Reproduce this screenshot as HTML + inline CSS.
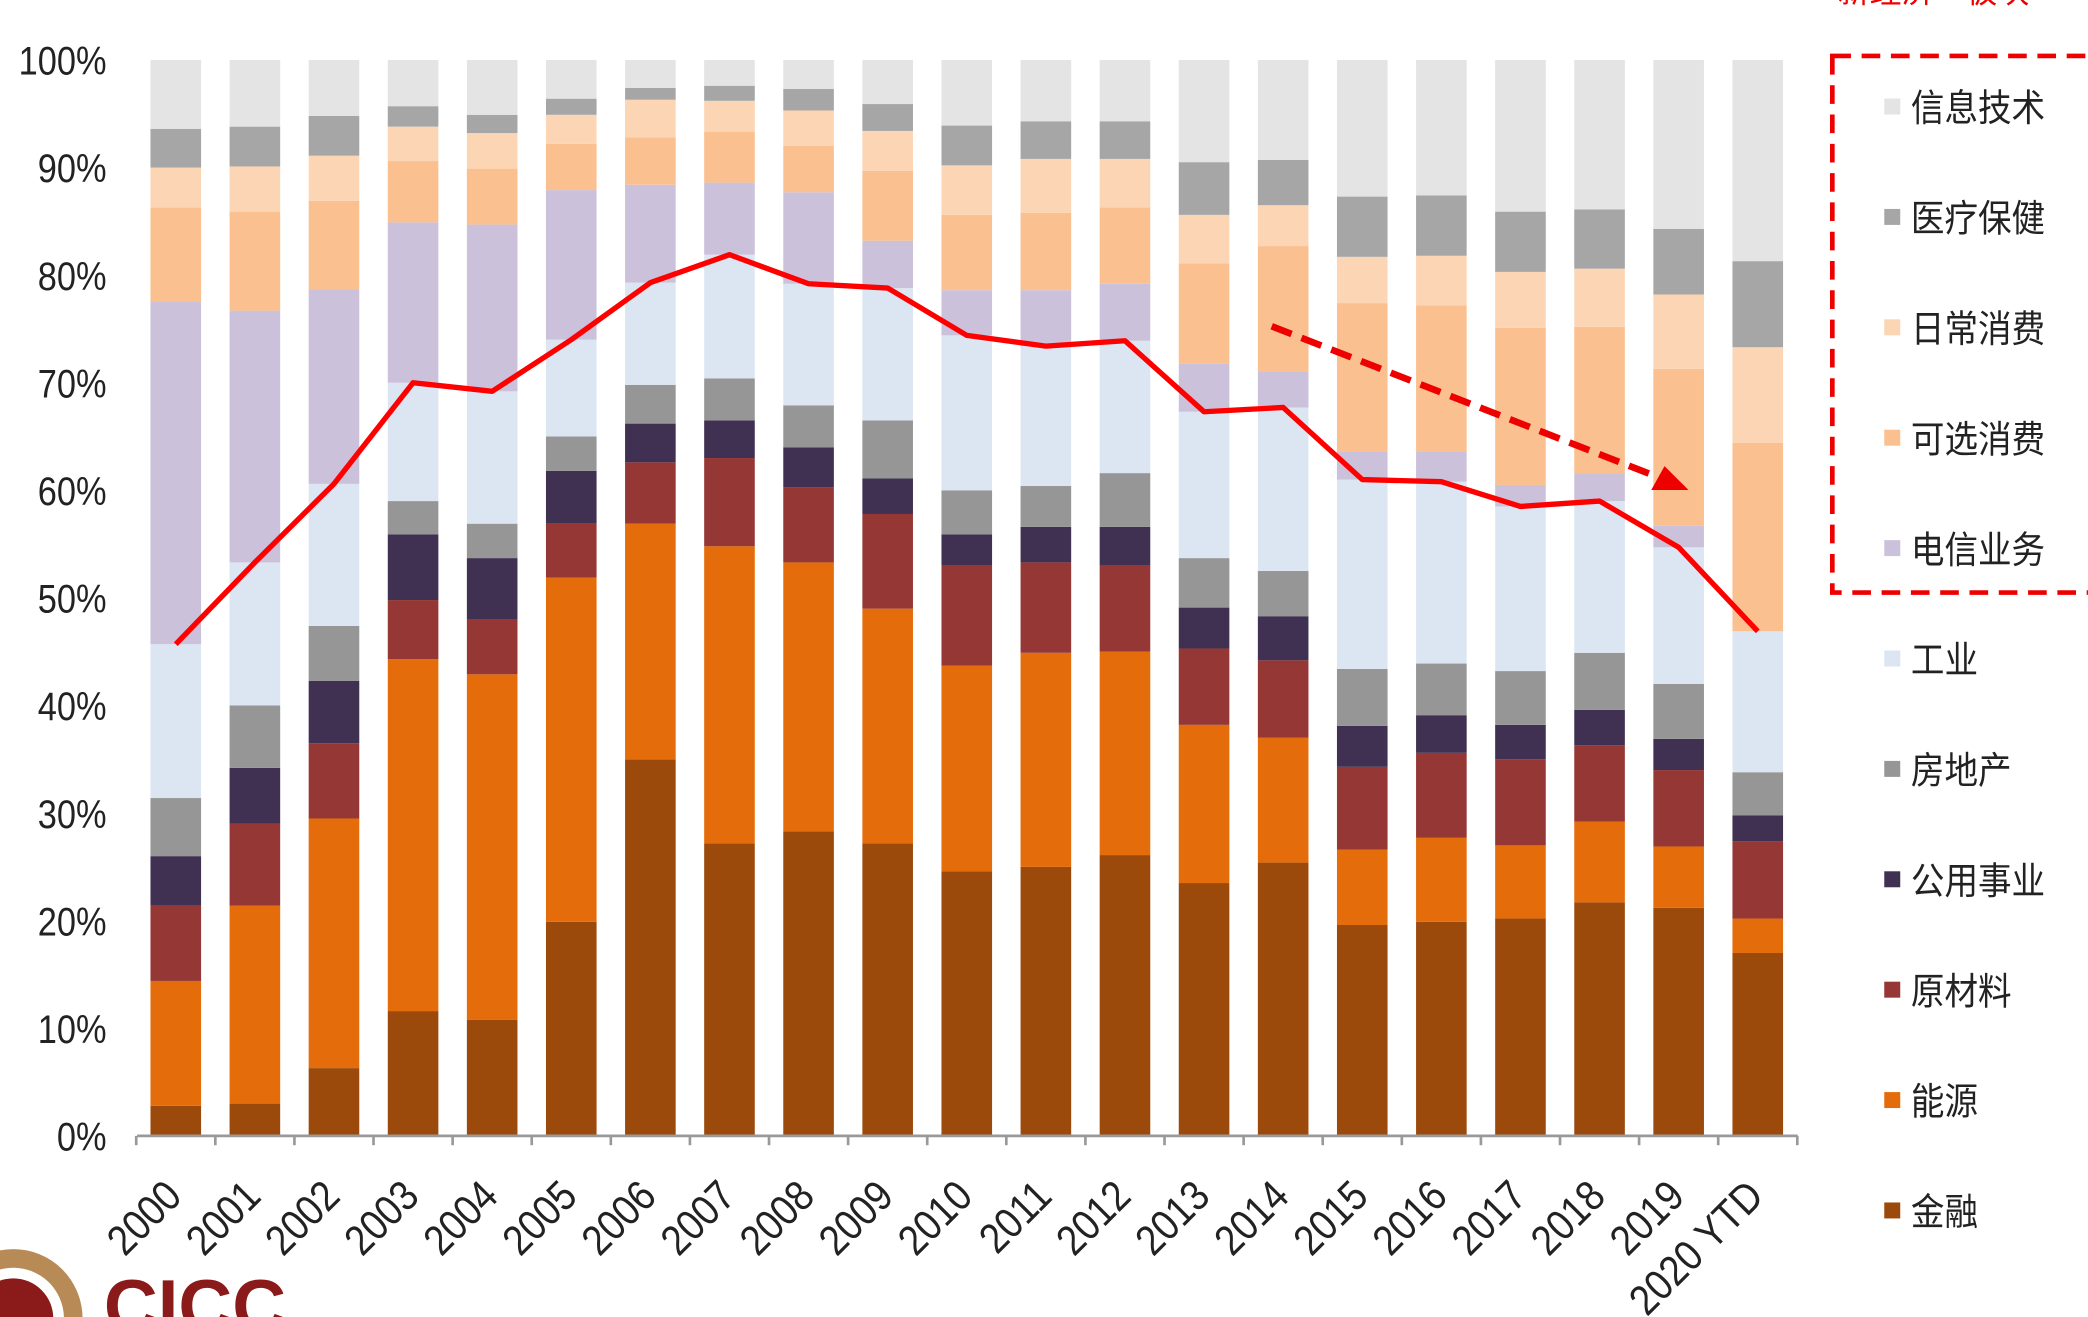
<!DOCTYPE html>
<html><head><meta charset="utf-8"><style>
html,body{margin:0;padding:0;background:#fff;overflow:hidden;width:2088px;height:1317px;}
svg{display:block;overflow:hidden;}
text{font-family:"Liberation Sans","Noto Sans CJK SC",sans-serif;}
</style></head><body>
<svg id="chart" width="2088" height="1317" viewBox="0 0 1568 989" xmlns="http://www.w3.org/2000/svg">
<g id="bars"></g>
<g id="axes"></g>
<g id="legend"></g>
<rect x="1376" y="42" width="220" height="403" fill="none" stroke="#e00" stroke-width="3.5" stroke-dasharray="14,8"/>
<text x="1380" y="2" font-size="24" fill="#e00">新经济一板块</text>
<g>
<line x1="955" y1="245" x2="1252" y2="361" stroke="#e00" stroke-width="5" stroke-dasharray="16,8"/>
<polygon points="1268,368 1240,368 1250,350" fill="#e00"/>
</g>
<g>
<circle cx="10" cy="990" r="52" fill="#b88a55"/>
<circle cx="10" cy="990" r="38" fill="#fff"/>
<circle cx="10" cy="990" r="30" fill="#8b1a1a"/>
<text x="78" y="1000" font-size="56" font-weight="bold" fill="#8b1a1a">CICC</text>
</g>
</svg>
<script>
const categories = ["2000","2001","2002","2003","2004","2005","2006","2007","2008","2009","2010","2011","2012","2013","2014","2015","2016","2017","2018","2019","2020 YTD"];
const seriesNames = ["金融","能源","原材料","公用事业","房地产","工业","电信业务","可选消费","日常消费","医疗保健","信息技术"];
const seriesColors = ["#9C4A0C","#E46C0A","#953735","#403152","#969696","#DCE6F2","#CCC1DA","#FAC090","#FCD5B5","#A6A6A6","#E4E4E4"];
const yTicks = [0,10,20,30,40,50,60,70,80,90,100];
// cumulative tops (%) per year, bottom to top
const tops2000=[2.8,14.4,21.4,26,31.4,45.7,77.5,86.3,90,93.6,100];
const tops2001=[3.0,21.4,29,34.2,40,53.3,76.7,85.9,90.1,93.8,100];
const tops2002=[6.3,29.5,36.5,42.3,47.4,60.6,78.7,86.9,91.1,94.8,100];
const tops2003=[11.6,44.3,49.8,55.9,59,70,84.9,90.6,93.8,95.7,100];
const tops2004=[10.8,42.9,48,53.7,56.9,69.2,84.7,89.9,93.2,94.9,100];
const tops2005=[19.9,51.9,56.9,61.8,65,74,87.9,92.2,94.9,96.4,100];
const tops2006=[35,56.9,62.6,66.2,69.8,79.3,88.4,92.8,96.3,97.4,100];
const tops2007=[27.2,54.8,63,66.5,70.4,81.9,88.6,93.3,96.2,97.6,100];
const tops2008=[28.3,53.3,60.3,64,67.9,79.2,87.7,92,95.3,97.3,100];
const tops2009=[27.2,49,57.8,61.1,66.5,78.8,83.2,89.7,93.4,95.9,100];
const tops2010=[24.6,43.7,53,55.9,60,74.4,78.6,85.6,90.2,93.9,100];
const tops2011=[25,44.9,53.3,56.6,60.4,73.4,78.6,85.8,90.8,94.3,100];
const tops2012=[26.1,45,53,56.6,61.6,73.9,79.2,86.3,90.8,94.3,100];
const tops2013=[23.5,38.2,45.3,49.1,53.7,67.3,71.8,81.1,85.6,90.5,100];
const tops2014=[25.4,37,44.2,48.3,52.5,67.7,71,82.7,86.5,90.7,100];
const tops2015=[19.6,26.6,34.3,38.1,43.4,61,63.6,77.4,81.7,87.3,100];
const tops2016=[19.9,27.7,35.6,39.1,43.9,60.8,63.6,77.2,81.8,87.4,100];
const tops2017=[20.2,27,35,38.2,43.2,58.5,60.5,75.1,80.3,85.9,100];
const tops2018=[21.7,29.2,36.3,39.6,44.9,59,61.6,75.2,80.6,86.1,100];
const tops2019=[21.2,26.9,34,36.9,42,54.7,56.7,71.3,78.2,84.3,100];
const tops2020=[17,20.2,27.4,29.8,33.8,46.9,46.9,64.4,73.3,81.3,100];
const allTops=[tops2000,tops2001,tops2002,tops2003,tops2004,tops2005,tops2006,tops2007,tops2008,tops2009,tops2010,tops2011,tops2012,tops2013,tops2014,tops2015,tops2016,tops2017,tops2018,tops2019,tops2020];

const NS="http://www.w3.org/2000/svg";
const y0=853,y1=45,x0=132,step=59.4,bw=38;
function yS(v){return y0-(y0-y1)*v/100;}
function xS(i){return x0+i*step;}
function mk(tag,attrs,parent){const e=document.createElementNS(NS,tag);for(const k in attrs)e.setAttribute(k,attrs[k]);parent.appendChild(e);return e;}
const bars=document.getElementById('bars'),axes=document.getElementById('axes'),legend=document.getElementById('legend'),svg=document.getElementById('chart');
allTops.forEach((t,i)=>{
  let prev=0;
  t.forEach((v,s)=>{
    if(v>prev){
      const r=mk('rect',{x:xS(i)-bw/2,y:yS(v),width:bw,height:yS(prev)-yS(v),fill:seriesColors[s]},bars);
      
      
    }
    prev=Math.max(prev,v);
  });
});
let ax=mk('line',{x1:103,y1:y0,x2:1350,y2:y0,stroke:'#999','stroke-width':2},axes);


for(let i=0;i<=categories.length;i++){mk('line',{x1:xS(i)-step/2,y1:y0,x2:xS(i)-step/2,y2:y0+7,stroke:'#999','stroke-width':2},axes);}
yTicks.forEach(v=>{
  const t=mk('text',{x:0,y:0,'text-anchor':'end','font-size':30,fill:'#222',transform:'translate(80 '+(yS(v)+11)+') scale(0.86 1)'},axes);
  t.textContent=v+'%';
  
  
});
categories.forEach((c,i)=>{
  const t=mk('text',{x:0,y:0,'text-anchor':'end','font-size':32,fill:'#222',transform:'translate('+(xS(i)+6)+' 900) rotate(-45) scale(0.88 1)'},axes);
  t.textContent=c;
  
  
});
const pts=allTops.map((t,i)=>xS(i)+','+yS(t[5])).join(' ');
const pl=mk('polyline',{points:pts,fill:'none',stroke:'#f00','stroke-width':4,'stroke-linejoin':'round'},svg);


for(let k=0;k<seriesNames.length;k++){
  const s=seriesNames.length-1-k, y=80+k*82.9;
  const r=mk('rect',{x:1415,y:y-6,width:12,height:12,fill:seriesColors[s]},legend);
  
  
  const t=mk('text',{x:0,y:0,'font-size':28,fill:'#222',transform:'translate(1435 '+(y+11)+') scale(0.9 1)'},legend);
  t.textContent=seriesNames[s];
  
  
}
</script>
</body></html>
